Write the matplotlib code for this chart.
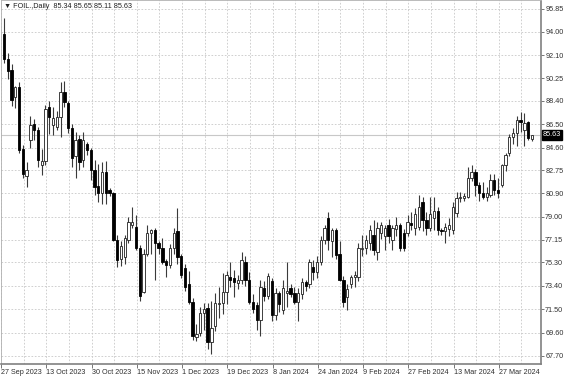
import numpy as np
import matplotlib
matplotlib.use("Agg")
import matplotlib.pyplot as plt

plt.rcParams['font.family'] = ['Liberation Sans Narrow', 'DejaVu Sans Condensed', 'Liberation Sans', 'DejaVu Sans']

# FOIL daily candles, 27 Sep 2023 .. early Apr 2024
opens = [93.8, 91.8, 90.9, 88.7, 89.5, 84.5, 82.3, 85.2, 86.5, 86.0,
         83.2, 83.5, 87.9, 86.4, 86.3, 87.1, 89.1, 88.2, 86.2, 83.9,
         85.3, 83.6, 84.9, 84.4, 82.8, 81.5, 80.9, 82.6, 81.2, 80.9,
         77.1, 75.6, 75.7, 77.1, 78.3, 78.2, 76.5, 72.9, 76.0, 77.7,
         77.9, 76.9, 76.5, 75.4, 75.1, 76.5, 77.8, 75.8, 74.8, 73.5,
         72.1, 69.2, 69.6, 71.2, 71.6, 68.8, 70.1, 71.9, 72.0, 72.9,
         74.1, 74.0, 73.6, 73.9, 75.3, 73.9, 72.1, 71.8, 70.6, 73.2,
         72.6, 73.8, 71.0, 72.8, 71.4, 72.8, 73.2, 72.8, 72.1, 72.7,
         73.7, 73.5, 74.9, 74.5, 75.3, 77.1, 78.9, 77.0, 77.9, 76.0,
         73.9, 72.5, 73.5, 74.1, 74.1, 76.4, 76.5, 76.9, 77.5, 76.1,
         77.7, 77.4, 78.3, 77.1, 78.0, 78.3, 77.7, 77.7, 78.5, 78.1,
         78.2, 80.2, 78.7, 78.1, 78.9, 79.5, 77.9, 77.8, 78.0, 77.9,
         79.3, 80.5, 80.5, 80.6, 82.1, 82.6, 81.6, 80.9, 80.6, 80.8,
         82.0, 81.2, 81.6, 83.2, 84.2, 85.5, 85.8, 86.85, 86.0, 86.7,
         85.34]
highs = [95.1, 92.3, 91.4, 89.6, 89.9, 84.8, 83.4, 87.2, 86.9, 86.3,
         84.5, 88.1, 88.4, 87.9, 87.6, 89.9, 90.0, 88.4, 86.5, 85.9,
         85.6, 85.9, 85.1, 84.6, 83.6, 83.3, 83.4, 83.5, 81.3, 81.0,
         77.5, 77.0, 77.5, 79.0, 79.8, 79.1, 76.7, 76.4, 78.3, 78.0,
         78.1, 77.0, 77.3, 75.6, 76.8, 78.1, 79.7, 76.0, 75.2, 74.6,
         72.4, 70.3, 71.7, 72.0, 72.0, 72.2, 72.8, 73.3, 74.4, 74.6,
         75.3, 74.7, 74.3, 76.1, 75.8, 74.5, 72.7, 72.1, 73.9, 73.8,
         74.4, 74.0, 73.2, 73.0, 73.9, 75.3, 73.5, 73.3, 73.2, 74.0,
         73.9, 75.6, 75.5, 75.8, 77.4, 78.3, 79.4, 78.1, 78.1, 77.0,
         74.2, 73.5, 74.3, 74.6, 76.9, 77.5, 77.5, 78.3, 78.7, 78.6,
         78.6, 78.3, 78.8, 78.3, 79.0, 78.5, 78.0, 79.1, 79.4, 79.7,
         80.8, 80.6, 79.4, 80.6, 80.6, 79.8, 78.1, 78.5, 78.9, 80.2,
         81.0, 81.0, 80.9, 83.0, 83.2, 82.9, 81.8, 81.8, 81.4, 82.5,
         82.5, 82.1, 83.3, 84.2, 85.7, 86.2, 87.2, 87.5, 87.4, 86.8,
         85.65]
lows = [91.5, 90.2, 88.0, 87.8, 84.2, 82.1, 81.4, 84.6, 85.2, 83.0,
        82.4, 83.2, 85.7, 85.6, 86.0, 85.5, 87.9, 85.8, 83.0, 82.1,
        82.8, 83.0, 84.0, 82.0, 80.8, 80.2, 80.0, 80.0, 80.7, 77.0,
        74.9, 75.0, 75.2, 76.9, 78.1, 76.3, 72.2, 72.8, 75.8, 76.0,
        73.9, 76.0, 75.2, 74.1, 74.8, 76.0, 75.2, 74.0, 73.0, 71.9,
        69.0, 68.9, 69.3, 69.8, 68.3, 67.9, 69.7, 70.8, 71.1, 71.9,
        73.3, 72.5, 73.1, 73.5, 73.4, 71.9, 71.2, 69.8, 69.3, 72.2,
        72.3, 70.5, 70.6, 71.3, 71.1, 71.7, 72.5, 71.9, 70.5, 72.3,
        73.0, 73.2, 73.9, 74.0, 75.1, 76.8, 76.3, 75.7, 75.6, 73.8,
        71.7, 71.4, 73.2, 73.3, 73.8, 75.8, 76.0, 76.3, 75.9, 75.5,
        77.2, 76.3, 76.9, 76.3, 77.4, 76.2, 76.2, 77.4, 77.9, 77.5,
        77.9, 77.8, 77.5, 77.8, 77.9, 77.5, 77.5, 76.9, 77.4, 77.6,
        79.0, 80.2, 80.3, 80.5, 81.9, 80.7, 80.3, 80.4, 80.3, 80.6,
        80.8, 80.5, 81.4, 82.7, 83.9, 84.9, 84.7, 85.9, 84.7, 85.2,
        85.11]
closes = [91.8, 90.8, 88.5, 89.5, 84.4, 82.5, 82.8, 86.4, 86.0, 83.6,
          83.5, 87.7, 87.1, 87.0, 87.1, 89.1, 88.3, 86.2, 83.8, 85.2,
          83.4, 85.2, 84.4, 82.8, 81.4, 80.9, 82.6, 80.9, 80.9, 77.1,
          75.5, 76.6, 77.3, 78.6, 78.6, 76.5, 72.6, 76.0, 77.7, 77.9,
          76.9, 76.5, 75.3, 75.1, 76.5, 77.7, 75.7, 74.3, 73.3, 72.1,
          69.3, 69.5, 71.2, 71.5, 68.8, 70.0, 72.0, 72.0, 72.9, 74.3,
          73.9, 73.7, 73.9, 75.5, 73.9, 72.1, 71.5, 70.6, 73.3, 72.6,
          74.2, 71.0, 72.8, 71.9, 73.2, 73.0, 72.7, 72.1, 72.8, 73.7,
          73.4, 75.3, 74.5, 75.3, 77.1, 78.1, 77.1, 77.9, 75.9, 73.9,
          72.1, 73.1, 74.1, 74.3, 76.5, 76.5, 77.1, 77.9, 76.3, 78.1,
          78.3, 78.1, 77.4, 78.1, 78.3, 76.5, 76.5, 78.6, 78.3, 79.2,
          79.8, 78.7, 78.1, 79.2, 79.5, 77.9, 77.8, 78.2, 78.3, 79.8,
          80.5, 80.6, 80.7, 82.1, 82.6, 81.6, 80.9, 80.6, 80.9, 82.0,
          81.2, 80.9, 83.2, 84.0, 85.5, 85.8, 86.85, 86.7, 86.6, 85.4,
          85.63]

date_labels = ['27 Sep 2023', '13 Oct 2023', '30 Oct 2023', '15 Nov 2023',
               '1 Dec 2023', '19 Dec 2023', '8 Jan 2024', '24 Jan 2024',
               '9 Feb 2024', '27 Feb 2024', '13 Mar 2024', '27 Mar 2024']
price_labels = ['67.70', '69.60', '71.50', '73.40', '75.30', '77.15', '79.00', '80.90',
                '82.75', '84.60', '86.50', '88.40', '90.25', '92.10', '94.00', '95.85']
last_price = 85.63

o = np.array(opens)
h = np.array(highs)
l = np.array(lows)
c = np.array(closes)
idx = np.arange(len(o))
up = c >= o

fig = plt.figure(figsize=(5.64, 3.76), dpi=100)
ax = fig.add_axes([1 / 564, 12 / 376, 540 / 564, 364 / 376])

# grid
price_ticks = [float(p) for p in price_labels]
ax.set_yticks(price_ticks)
ax.set_yticklabels(price_labels)
ax.set_xticks(np.arange(len(date_labels)) * 12 - 0.8)
ax.set_xticklabels(date_labels, ha='left')
ax.set_xticks(np.arange(0, 144, 6) - 0.8, minor=True)
ax.grid(True, which='both', color='#c8c8c8', linestyle=(0, (2, 2)), linewidth=0.6)
ax.set_axisbelow(True)

# last price line
ax.axhline(last_price, color='#c8c8c8', linewidth=0.8, zorder=1)

# candles
ax.vlines(idx, l, h, color='#3a3a3a', linewidth=0.8, zorder=2)
body_h = np.maximum(np.abs(c - o), 0.06)
ax.bar(idx[up], body_h[up], bottom=np.minimum(o, c)[up], width=0.62,
       color='white', edgecolor='#202020', linewidth=0.6, zorder=3)
ax.bar(idx[~up], body_h[~up], bottom=np.minimum(o, c)[~up], width=0.62,
       color='black', edgecolor='black', linewidth=0.6, zorder=3)

ax.set_xlim(-0.8, 142.4)
ax.set_ylim(67.05, 96.58)

ax.yaxis.tick_right()
ax.tick_params(axis='y', which='major', length=2, width=0.6, color='#606060',
               labelsize=5.2, pad=1, labelcolor='#303030')
ax.tick_params(axis='x', which='major', length=3, width=0.6, color='#606060',
               labelsize=5.2, pad=0.5, labelcolor='#303030')
ax.tick_params(axis='x', which='minor', length=0)

for side in ['top', 'left']:
    ax.spines[side].set_color('#b0b0b0')
    ax.spines[side].set_linewidth(0.6)
for side in ['right', 'bottom']:
    ax.spines[side].set_color('#808080')
    ax.spines[side].set_linewidth(1.2)

# current price tag
ax.annotate(f'{last_price:.2f}', xy=(1.0, last_price), xycoords=('axes fraction', 'data'),
            xytext=(1.5, 0), textcoords='offset points', va='center', ha='left',
            fontsize=5.2, color='white',
            bbox=dict(boxstyle='square,pad=0.15', fc='black', ec='black'))

fig.text(4 / 564, 1 - 6 / 376, '\u25bc FOIL.,Daily  85.34 85.65 85.11 85.63',
         fontsize=5.2, va='center', ha='left', color='#202020',
         family=['Liberation Sans Narrow', 'Liberation Sans', 'DejaVu Sans'])

fig.savefig('out.png', dpi=100, facecolor='white')
